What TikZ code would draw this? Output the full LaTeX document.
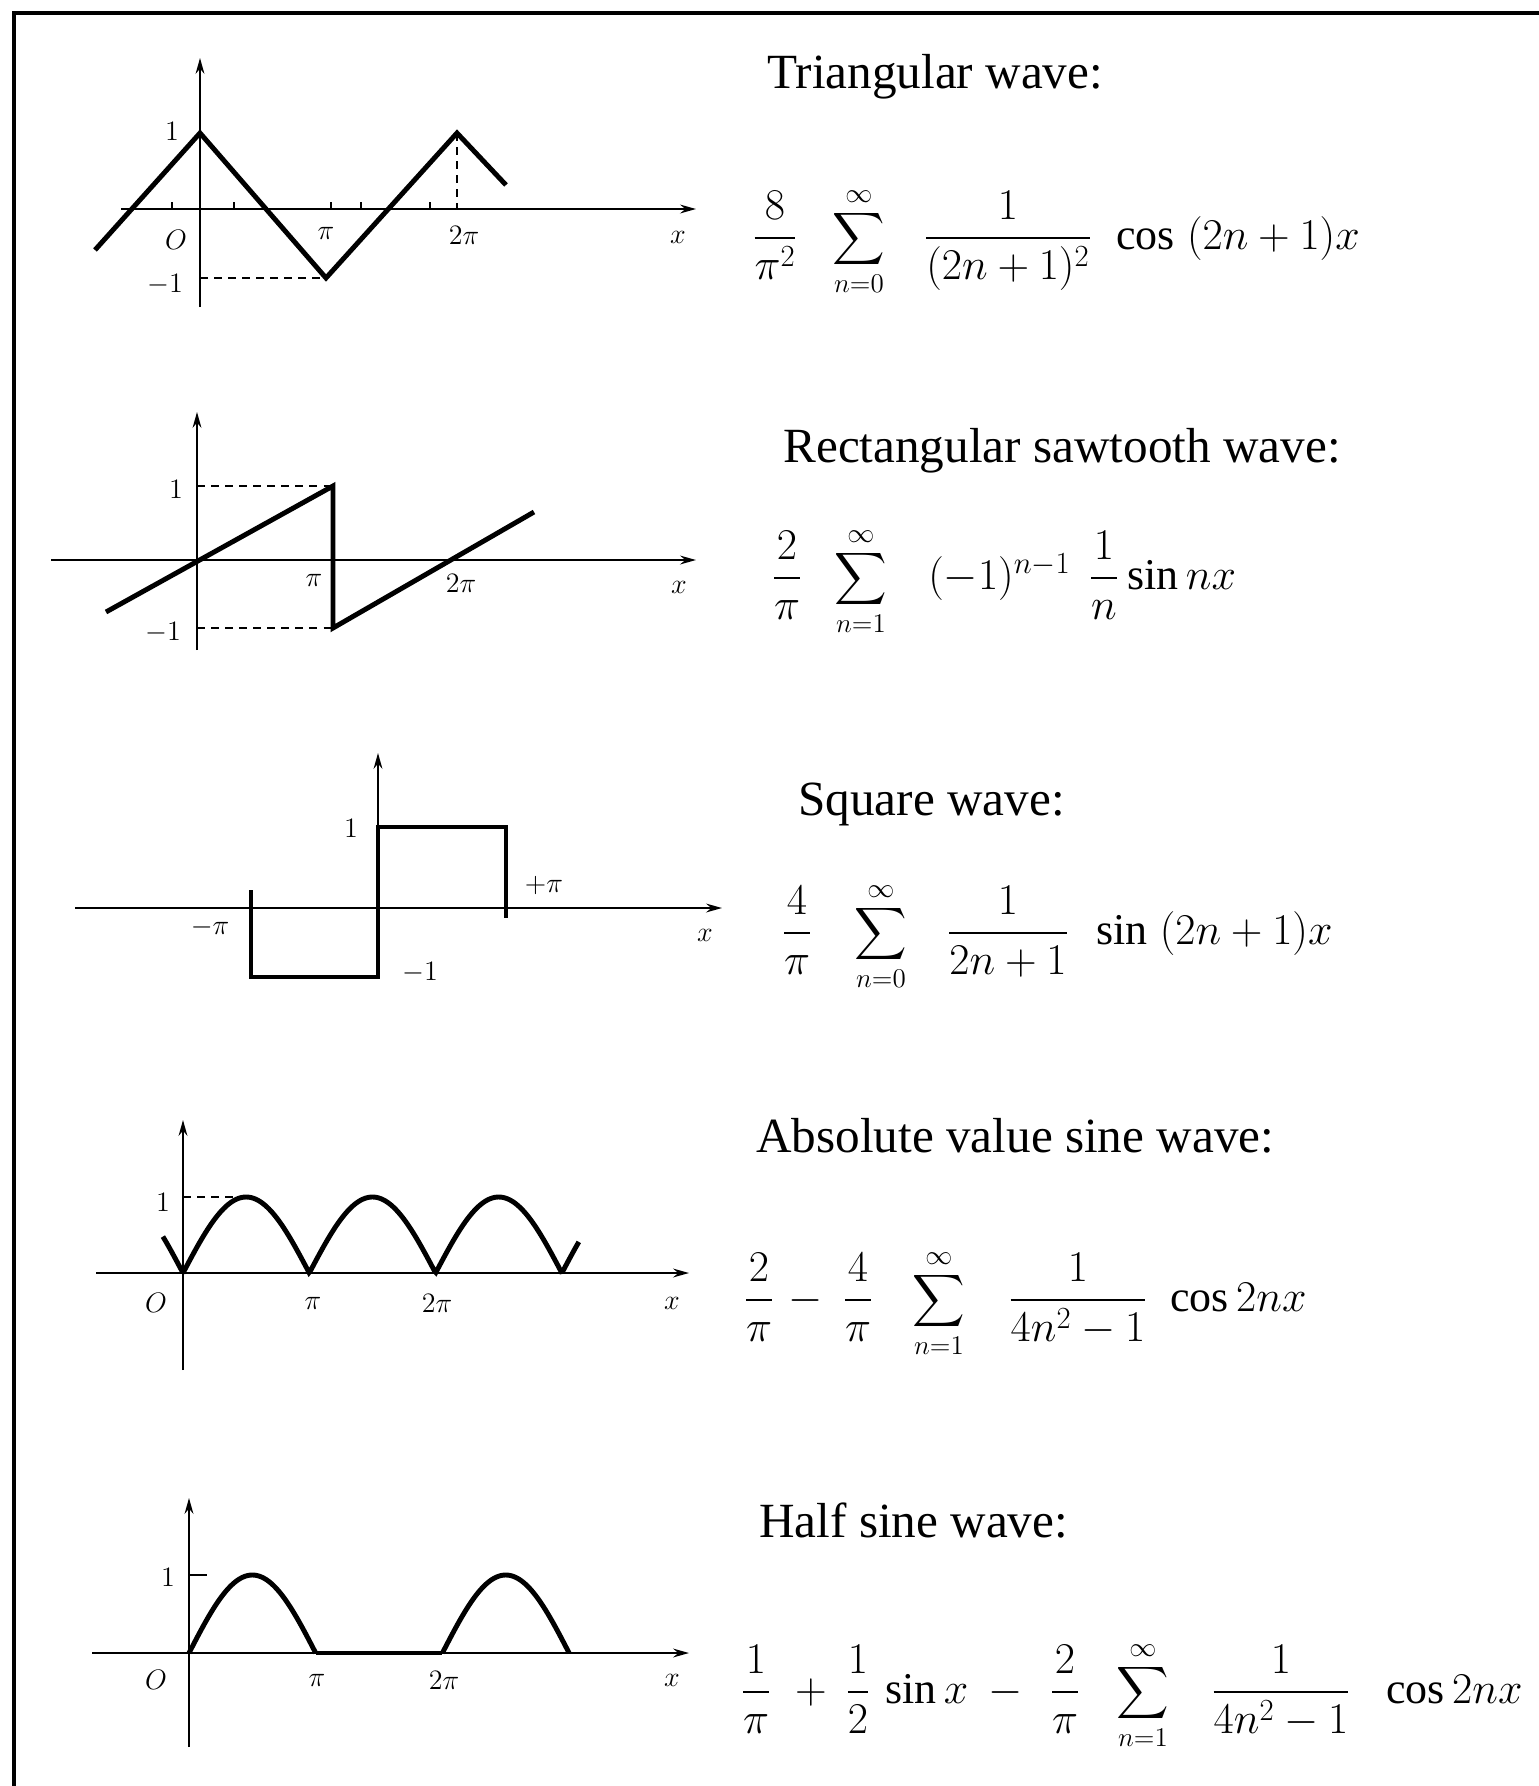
\RequirePackage{fix-cm}
\documentclass[tikz,border=0pt]{standalone}
\usepackage{amsmath}
\usepackage{fontspec}
\setmainfont{Liberation Serif}
\usetikzlibrary{arrows.meta}
\tikzset{
  axisline/.style={line width=1.2pt, -{Stealth[length=9pt,width=5pt]}},
  plainline/.style={line width=1.2pt},
  waveline/.style={line width=2.8pt, line join=miter},
  dashln/.style={line width=1pt, dash pattern=on 4.5pt off 3.5pt},
  ttl/.style={font=\fontsize{28}{32}\selectfont, anchor=base west, inner sep=0pt},
  fm/.style={font=\fontsize{25}{30}\selectfont, anchor=base, inner sep=0pt},
  fmw/.style={fm, anchor=base west},
  sm/.style={font=\fontsize{22}{26}\selectfont, anchor=base, inner sep=0pt},
  lbl/.style={font=\fontsize{16}{18}\selectfont, inner sep=0pt},
}
\begin{document}
\begin{tikzpicture}[x=0.02cm, y=0.02cm]
\useasboundingbox (0,0) rectangle (1539,-1786);
\fill[white] (0,0) rectangle (1539,-1786);
% frame
\draw[line width=2.3pt] (14,-1786) -- (14,-13) -- (1539,-13);

% ---------- Panel 1: triangular wave ----------
\draw[axisline] (121,-209) -- (696,-209);
\draw[axisline] (200,-307) -- (200,-58);
\foreach \t in {172,234,331,361,430} \draw[plainline] (\t,-209) -- (\t,-202);
\draw[dashln] (200,-278) -- (326,-278);
\draw[dashln] (457,-133) -- (457,-209);
\draw[waveline] (95,-250) -- (200,-133) -- (326,-278) -- (457,-133) -- (506,-185);
\node[lbl] (l1a) at (172,-131) {$1$};
\node[lbl] (l1b) at (176,-240) {$O$};
\node[lbl] (l1c) at (326,-233) {$\pi$};
\node[lbl] (l1d) at (464,-235) {$2\pi$};
\node[lbl] (l1e) at (678,-237) {$x$};
\node[lbl] (l1f) at (165,-285) {$-1$};
\node[ttl] (t1) at (767,-88) {Triangular wave:};
\node[fm] (f1a) at (775,-249) {$\dfrac{8}{\pi^2}$};
\node[sm] (f1b) at (859,-249) {$\displaystyle\sum_{n=0}^{\infty}$};
\node[fm] (f1c) at (1008,-249) {$\dfrac{1}{(2n+1)^2}$};
\node[fmw] (f1d) at (1116,-249) {$\cos\;(2n+1)x$};

% ---------- Panel 2: sawtooth ----------
\draw[axisline] (51,-560) -- (696,-560);
\draw[axisline] (197,-650) -- (197,-412);
\draw[dashln] (197,-486) -- (333,-486);
\draw[dashln] (197,-628) -- (333,-628);
\draw[waveline] (106,-612) -- (333,-486) -- (333,-628) -- (534,-512);
\node[lbl] (l2a) at (176,-489) {$1$};
\node[lbl] (l2b) at (163,-633) {$-1$};
\node[lbl] (l2c) at (314,-580) {$\pi$};
\node[lbl] (l2d) at (461,-583) {$2\pi$};
\node[lbl] (l2e) at (679,-587) {$x$};
\node[ttl] (t2) at (783,-462) {Rectangular sawtooth wave:};
\node[fm] (f2a) at (787,-589) {$\dfrac{2}{\pi}$};
\node[sm] (f2b) at (861,-589) {$\displaystyle\sum_{n=1}^{\infty}$};
\node[fmw] (f2c) at (928,-589) {$(-1)^{n-1}$};
\node[fm] (f2d) at (1104,-589) {$\dfrac{1}{n}$};
\node[fmw] (f2e) at (1127,-589) {$\sin nx$};

% ---------- Panel 3: square wave ----------
\draw[axisline] (75,-908) -- (722,-908);
\draw[axisline] (378,-978) -- (378,-753);
\draw[waveline] (251,-890) -- (251,-977) -- (378,-977) -- (378,-827) -- (506,-827) -- (506,-918);
\node[lbl] (l3a) at (351,-828) {$1$};
\node[lbl] (l3b) at (210,-927) {$-\pi$};
\node[lbl] (l3c) at (544,-885) {$+\pi$};
\node[lbl] (l3d) at (420,-973) {$-1$};
\node[lbl] (l3e) at (705,-935) {$x$};
\node[ttl] (t3) at (798,-815) {Square wave:};
\node[fm] (f3a) at (797,-944) {$\dfrac{4}{\pi}$};
\node[sm] (f3b) at (881,-944) {$\displaystyle\sum_{n=0}^{\infty}$};
\node[fm] (f3c) at (1008,-944) {$\dfrac{1}{2n+1}$};
\node[fmw] (f3d) at (1096,-944) {$\sin\;(2n+1)x$};

% ---------- Panel 4: absolute value sine ----------
\draw[axisline] (96,-1273) -- (689,-1273);
\draw[axisline] (183,-1370) -- (183,-1120);
\draw[dashln] (183,-1197) -- (234,-1197);
\draw[waveline] plot[domain=-0.5:9.85, samples=260] ({183+\x*40.2}, {-1273+76*abs(sin(\x r))});
\node[lbl] (l4a) at (163,-1202) {$1$};
\node[lbl] (l4b) at (156,-1303) {$O$};
\node[lbl] (l4c) at (313,-1303) {$\pi$};
\node[lbl] (l4d) at (437,-1303) {$2\pi$};
\node[lbl] (l4e) at (672,-1303) {$x$};
\node[ttl] (t4) at (756,-1152) {Absolute value sine wave:};
\node[fm] (f4a) at (759,-1311) {$\dfrac{2}{\pi}$};
\node[fm] (f4b) at (806,-1311) {$-$};
\node[fm] (f4c) at (858,-1311) {$\dfrac{4}{\pi}$};
\node[sm] (f4d) at (939,-1311) {$\displaystyle\sum_{n=1}^{\infty}$};
\node[fm] (f4e) at (1078,-1311) {$\dfrac{1}{4n^2-1}$};
\node[fmw] (f4f) at (1170,-1311) {$\cos 2nx$};

% ---------- Panel 5: half sine ----------
\draw[axisline] (92,-1653) -- (689,-1653);
\draw[axisline] (189,-1747) -- (189,-1498);
\draw[plainline] (189,-1575) -- (207,-1575);
\draw[waveline] plot[domain=0:3.14159, samples=120] ({189+\x*40.33}, {-1653+78*sin(\x r)});
\draw[waveline] (315.7,-1653) -- (442.4,-1653);
\draw[waveline] plot[domain=6.28318:9.42478, samples=120] ({189+\x*40.33}, {-1653+78*sin(\x r)});
\node[lbl] (l5a) at (168,-1577) {$1$};
\node[lbl] (l5b) at (156,-1680) {$O$};
\node[lbl] (l5c) at (317,-1680) {$\pi$};
\node[lbl] (l5d) at (444,-1680) {$2\pi$};
\node[lbl] (l5e) at (672,-1680) {$x$};
\node[ttl] (t5) at (759,-1537) {Half sine wave:};
\node[fm] (f5a) at (756,-1703) {$\dfrac{1}{\pi}$};
\node[fm] (f5b) at (811,-1703) {$+$};
\node[fm] (f5c) at (858,-1703) {$\dfrac{1}{2}$};
\node[fmw] (f5d) at (885,-1703) {$\sin x$};
\node[fm] (f5e) at (1006,-1703) {$-$};
\node[fm] (f5f) at (1065,-1703) {$\dfrac{2}{\pi}$};
\node[sm] (f5g) at (1143,-1703) {$\displaystyle\sum_{n=1}^{\infty}$};
\node[fm] (f5h) at (1281,-1703) {$\dfrac{1}{4n^2-1}$};
\node[fmw] (f5i) at (1386,-1703) {$\cos 2nx$};
\end{tikzpicture}
\end{document}
